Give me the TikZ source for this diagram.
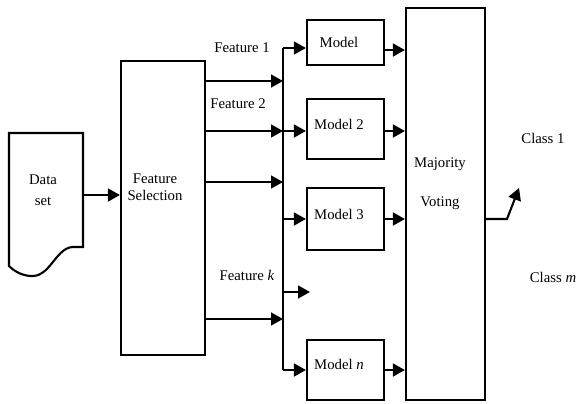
\documentclass[tikz,border=0pt]{standalone}
\usepackage{fontspec}
\setmainfont{Liberation Serif}
\usetikzlibrary{arrows.meta,calc}

\tikzset{
  box/.style={draw, line width=1.5pt, inner sep=0pt},
  lbl/.style={font=\fontsize{10.5}{12}\selectfont, inner sep=0pt},
  arr/.style={line width=1.5pt, -{Triangle[length=3mm, width=3.2mm]}},
  wire/.style={line width=1.5pt}
}

\begin{document}
\begin{tikzpicture}[x=0.025cm, y=-0.025cm]
\useasboundingbox (0,0) rectangle (583,403);

% data set
\draw[wire] (83,133) -- (83,247) -- (72,247) .. controls (55,249) and (50,278) .. (30,276) .. controls (20,275) and (13,270) .. (9,266) -- (9,133) -- cycle;
\node[lbl, align=center] (data) at (43,190) {Data\\[3pt]set};
\coordinate (d1) at (83,195);

% feature selection
\node[box, minimum width=84*0.025cm, minimum height=294*0.025cm] (fs) at (163,208) {};
\node[lbl, align=center] (fstext) at (155,187) {Feature\\Selection};
\draw[arr] (d1) -- (d1 -| fs.west);

% bus
\coordinate (b1) at (283,48);
\coordinate (b2) at (283,131);
\coordinate (b3) at (283,219);
\coordinate (b4) at (283,292);
\coordinate (b5) at (283,370);
\coordinate (f4) at (310,292);
\draw[wire] (b1) -- (b5);

% models
\node[box, minimum width=77*0.025cm, minimum height=45*0.025cm] (m1) at (345.5,42.5) {};
\node[box, minimum width=77*0.025cm, minimum height=60*0.025cm] (m2) at (345.5,129) {};
\node[box, minimum width=77*0.025cm, minimum height=62*0.025cm] (m3) at (345.5,219) {};
\node[box, minimum width=77*0.025cm, minimum height=60*0.025cm] (m4) at (345.5,370) {};
\node[lbl] (t1) at (339,42) {Model};
\node[lbl] (t2) at (339,124) {Model 2};
\node[lbl] (t3) at (339,214) {Model 3};
\node[lbl] (t4) at (339,364) {Model \textit{n}};

% voting
\node[box, minimum width=79*0.025cm, minimum height=392*0.025cm] (vote) at (445.5,204) {};
\node[lbl, align=center] (vtext) at (440,184) {Majority\\[16pt]Voting};

% features to bus
\foreach \y in {81,131,182,319}
  \draw[arr] (fs.east |- 0,\y) -- (b1 |- 0,\y);
\node[lbl] (ft1) at (242,48) {Feature 1};
\node[lbl] (ft2) at (238,104) {Feature 2};
\node[lbl] (ftk) at (247,275) {Feature \textit{k}};

% bus to models
\draw[arr] (b1) -- (b1 -| m1.west);
\draw[arr] (b2) -- (b2 -| m2.west);
\draw[arr] (b3) -- (b3 -| m3.west);
\draw[arr] (b4) -- (f4);
\draw[arr] (b5) -- (b5 -| m4.west);

% models to voting
\draw[arr] (m1.east |- 0,50) -- (vote.west |- 0,50);
\draw[arr] (m2.east |- b2) -- (vote.west |- b2);
\draw[arr] (m3.east) -- (vote.west |- m3.east);
\draw[arr] (m4.east) -- (vote.west |- m4.east);

% output
\coordinate (o1) at (507,219);
\coordinate (o2) at (519,188);
\draw[arr] (vote.east |- b3) -- (o1) -- (o2);
\node[lbl] (c1) at (543,138) {Class 1};
\node[lbl] (cm) at (553,277) {Class \textit{m}};

\end{tikzpicture}
\end{document}
